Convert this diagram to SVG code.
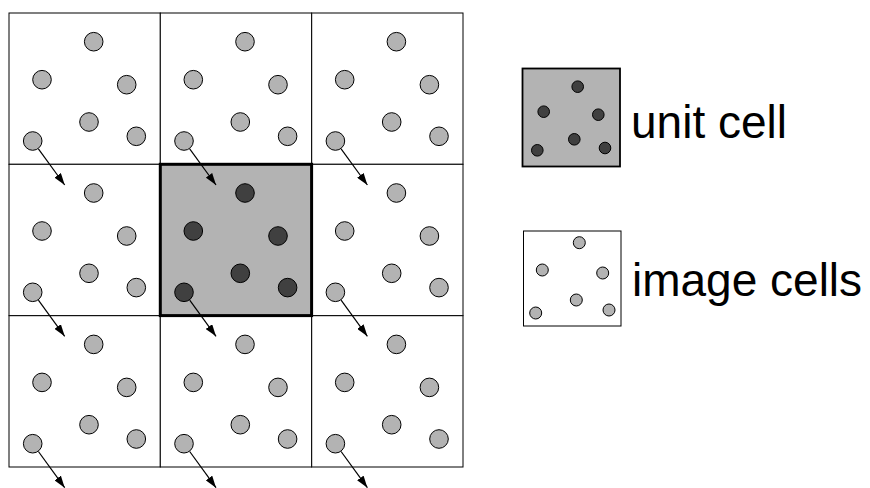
<svg xmlns="http://www.w3.org/2000/svg" xmlns:xlink="http://www.w3.org/1999/xlink" width="870" height="488" viewBox="0 0 870 488">
  <style>
    .cell { fill: #ffffff; stroke: #000000; stroke-width: 1; }
    .unit { fill: #b3b3b3; stroke: #000000; stroke-width: 3; }
    .pt { fill: #b3b3b3; stroke: #000000; stroke-width: 1; }
    .pt-dark { fill: #404040; stroke: #000000; stroke-width: 1; }
    .shift { stroke: #000000; stroke-width: 1.2; fill: none; marker-end: url(#head); }
    .label { font-family: "Liberation Sans", Arial, sans-serif; font-size: 46px; fill: #000000; }
  </style>
  <defs>
    <marker id="head" viewBox="0 0 12 8" refX="12" refY="4" markerWidth="12" markerHeight="8" markerUnits="userSpaceOnUse" orient="auto">
      <path d="M0,0 L12,4 L0,8 Z" fill="#000000"/>
    </marker>
    <!-- particle layout inside one periodic cell -->
    <g id="pts">
      <circle cx="84.7" cy="28.7" r="9.3"/>
      <circle cx="33" cy="66.7" r="9.3"/>
      <circle cx="117.7" cy="71.7" r="9.3"/>
      <circle cx="80" cy="109" r="9.3"/>
      <circle cx="127.3" cy="123.3" r="9.3"/>
      <circle cx="23.7" cy="128" r="9.3"/>
    </g>
  </defs>

  <!-- 3x3 periodic grid, centre cell is the unit cell -->
  <g id="cell-0-0" transform="translate(9,13)"><rect class="cell" width="151.3" height="151.3"/><use href="#pts" class="pt"/></g>
  <g id="cell-1-0" transform="translate(160.3,13)"><rect class="cell" width="151.3" height="151.3"/><use href="#pts" class="pt"/></g>
  <g id="cell-2-0" transform="translate(311.7,13)"><rect class="cell" width="151.3" height="151.3"/><use href="#pts" class="pt"/></g>
  <g id="cell-0-1" transform="translate(9,164.3)"><rect class="cell" width="151.3" height="151.3"/><use href="#pts" class="pt"/></g>
  <g id="cell-2-1" transform="translate(311.7,164.3)"><rect class="cell" width="151.3" height="151.3"/><use href="#pts" class="pt"/></g>
  <g id="cell-0-2" transform="translate(9,315.7)"><rect class="cell" width="151.3" height="151.3"/><use href="#pts" class="pt"/></g>
  <g id="cell-1-2" transform="translate(160.3,315.7)"><rect class="cell" width="151.3" height="151.3"/><use href="#pts" class="pt"/></g>
  <g id="cell-2-2" transform="translate(311.7,315.7)"><rect class="cell" width="151.3" height="151.3"/><use href="#pts" class="pt"/></g>
  <g id="cell-1-1" transform="translate(160.3,164.3)"><rect class="unit" width="151.3" height="151.3"/><use href="#pts" class="pt-dark"/></g>

  <!-- displacement arrows leaving each cell's lower-left particle -->
  <g id="connectors">
    <path class="shift" d="M38.4,148.8 L64.7,185"/>
    <path class="shift" d="M189.7,148.8 L216,185"/>
    <path class="shift" d="M341.1,148.8 L367.4,185"/>
    <path class="shift" d="M38.4,300.1 L64.7,336.3"/>
    <path class="shift" d="M189.7,300.1 L216,336.3"/>
    <path class="shift" d="M341.1,300.1 L367.4,336.3"/>
    <path class="shift" d="M38.4,451.5 L64.7,487.7"/>
    <path class="shift" d="M189.7,451.5 L216,487.7"/>
    <path class="shift" d="M341.1,451.5 L367.4,487.7"/>
  </g>

  <!-- legend -->
  <g id="legend-unit">
    <rect x="522.5" y="68.5" width="97.5" height="98" fill="#b3b3b3" stroke="#000000" stroke-width="1.8"/>
    <g class="pt-dark">
      <circle cx="577.7" cy="86.7" r="5.8"/>
      <circle cx="543.7" cy="111.7" r="5.8"/>
      <circle cx="598.3" cy="114.7" r="5.8"/>
      <circle cx="574.3" cy="139.3" r="5.8"/>
      <circle cx="537.3" cy="150.3" r="5.8"/>
      <circle cx="605" cy="148" r="5.8"/>
    </g>
    <text class="label" x="631" y="137.5">unit cell</text>
  </g>
  <g id="legend-image">
    <rect x="523.5" y="231" width="97.5" height="95" fill="#ffffff" stroke="#000000" stroke-width="1"/>
    <g class="pt">
      <circle cx="579.3" cy="242.7" r="6"/>
      <circle cx="542.3" cy="270" r="6"/>
      <circle cx="602.7" cy="273" r="6"/>
      <circle cx="576.3" cy="300" r="6"/>
      <circle cx="535.7" cy="313" r="6"/>
      <circle cx="609" cy="310" r="6"/>
    </g>
    <text class="label" x="632" y="296">image cells</text>
  </g>
</svg>
